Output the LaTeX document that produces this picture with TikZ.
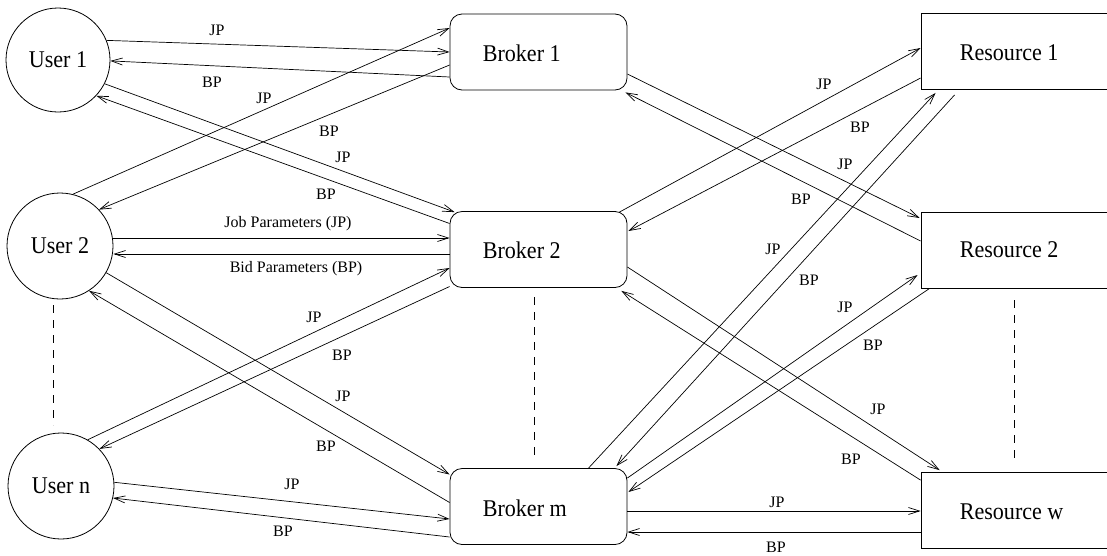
\documentclass[tikz,border=0pt]{standalone}
\usepackage{fontspec}
\setmainfont{Liberation Serif}
\newfontfamily\bigfont[FakeStretch=0.92]{Liberation Serif}
\usetikzlibrary{arrows.meta,calc}
\begin{document}
\begin{tikzpicture}[x=1pt,y=-1pt,
  arr/.style={draw, line width=0.7pt, -{Straight Barb[length=11pt,width=7pt,line width=0.7pt]}},
  user/.style={circle, draw, line width=0.8pt, inner sep=0pt, font=\bigfont\fontsize{24}{28}\selectfont},
  broker/.style={rectangle, rounded corners=12pt, draw, line width=0.8pt, minimum width=177pt, minimum height=76pt, inner sep=0pt},
  res/.style={rectangle, draw, line width=0.8pt, minimum width=200pt, minimum height=76pt, inner sep=0pt},
  big/.style={font=\bigfont\fontsize{24}{28}\selectfont, inner sep=0pt},
  small/.style={font=\fontsize{16}{19}\selectfont, inner sep=0pt},
  dotline/.style={draw, dash pattern=on 8pt off 7pt, line width=0.7pt}
]
\clip (0,0) rectangle (1107,555);
\fill[white] (0,0) rectangle (1107,555);

% users
\node[user, minimum size=104pt] (u1) at (58,60) {User 1};
\node[user, minimum size=106pt] (u2) at (60,246) {User 2};
\node[user, minimum size=106pt] (un) at (61,486) {User n};

% brokers
\node[broker] (b1) at (538.5,52) {};
\node[broker] (b2) at (538.5,249.5) {};
\node[broker] (bm) at (538.5,506.5) {};
\node[big, anchor=west] (b1t) at ($(b1.west)+(33,1)$) {Broker 1};
\node[big, anchor=west] (b2t) at ($(b2.west)+(33,1)$) {Broker 2};
\node[big, anchor=west] (bmt) at ($(bm.west)+(33,1.5)$) {Broker m};

% resources
\node[res] (r1) at (1021,51.5) {};
\node[res] (r2) at (1021,250) {};
\node[res] (rw) at (1021,510.5) {};
\node[big, anchor=west] (r1t) at ($(r1.west)+(39,1.5)$) {Resource 1};
\node[big, anchor=west] (r2t) at ($(r2.west)+(39,0)$) {Resource 2};
\node[big, anchor=west] (rwt) at ($(rw.west)+(39,1.5)$) {Resource w};

% dashed ellipsis lines
\draw[dotline] (53,305) -- (53,425);
\draw[dotline] (534,297) -- (534,458);
\draw[dotline] (1014,300) -- (1014,462);

% users <-> brokers
\draw[arr] (u1.22) -- (b1.west);
\draw[arr] ($(b1.west)+(0,25)$) -- (u1.-1);
\draw[arr] (u2.76) -- ($(b1.west)+(0,-24)$);
\draw[arr] ($(b1.west)+(0,13)$) -- (u2.43);
\draw[arr] (u1.-27) -- ($(b2.north west)+(5,1)$);
\draw[arr] ($(b2.west)+(0,-26)$) -- (u1.-43);
\coordinate (p7) at ($(b2.west)+(0,-11.5)$);
\draw[arr] (p7 -| u2.east) -- (p7);
\coordinate (p8) at ($(b2.west)+(0,4.5)$);
\draw[arr] (p8) -- (p8 -| u2.east);
\draw[arr] (u2.-30) -- ($(bm.west)+(0,-32)$);
\draw[arr] ($(bm.west)+(0,-4)$) -- (u2.-57);
\draw[arr] (un.60) -- ($(b2.west)+(0,18.5)$);
\draw[arr] ($(b2.west)+(0,37)$) -- (un.44);
\draw[arr] (un.4) -- ($(bm.west)+(0,12.5)$);
\draw[arr] ($(bm.west)+(0,30.5)$) -- (un.-13);

% brokers <-> resources
\draw[arr] ($(b2.north east)+(-8,1)$) -- ($(r1.west)+(0,-3.5)$);
\draw[arr] ($(r1.west)+(0,26.5)$) -- ($(b2.east)+(1,-18.5)$);
\draw[arr] ($(b1.east)+(0,22)$) -- ($(r2.west)+(-1,-32)$);
\draw[arr] ($(r2.west)+(0,-9)$) -- ($(b1.south east)+(-2,2)$);
\draw[arr] ($(bm.north)+(50,0)$) -- ($(r1.south west)+(15,3)$);
\draw[arr] ($(r1.south west)+(34,5)$) -- ($(bm.north east)+(-11,-2)$);
\draw[arr] ($(bm.east)+(0,-28.5)$) -- ($(r2.west)+(-3,25)$);
\draw[arr] ($(r2.south west)+(9,0)$) -- ($(bm.east)+(1,-14.5)$);
\draw[arr] ($(b2.east)+(0,17.5)$) -- ($(rw.north west)+(19,-2)$);
\draw[arr] ($(rw.north west)+(0,8)$) -- ($(b2.south east)+(-6,3)$);
\coordinate (p25) at ($(bm.east)+(0,4.5)$);
\draw[arr] (p25) -- (p25 -| rw.west);
\coordinate (p26) at ($(bm.east)+(0,25.5)$);
\draw[arr] (p26 -| rw.west) -- (p26);

% labels
\node[small] (l1) at (217,30) {JP};
\node[small] (l2) at (212,82) {BP};
\node[small] (l3) at (264,98) {JP};
\node[small] (l4) at (329,131) {BP};
\node[small] (l5) at (343,157) {JP};
\node[small] (l6) at (326,194) {BP};
\node[small] (l7) at (288,224) {Job Parameters (JP)};
\node[small] (l8) at (296,269) {Bid Parameters (BP)};
\node[small] (l9) at (343,396) {JP};
\node[small] (l10) at (326,446) {BP};
\node[small] (l11) at (314,317) {JP};
\node[small] (l12) at (342,355) {BP};
\node[small] (l13) at (292,484) {JP};
\node[small] (l14) at (283,531) {BP};
\node[small] (l15) at (824,84) {JP};
\node[small] (l16) at (860,127) {BP};
\node[small] (l17) at (845,164) {JP};
\node[small] (l18) at (801,199) {BP};
\node[small] (l19) at (773,249) {JP};
\node[small] (l20) at (809,280) {BP};
\node[small] (l21) at (845,307) {JP};
\node[small] (l22) at (873,345) {BP};
\node[small] (l23) at (878,409) {JP};
\node[small] (l24) at (851,459) {BP};
\node[small] (l25) at (777,502) {JP};
\node[small] (l26) at (776,547) {BP};
\end{tikzpicture}
\end{document}
